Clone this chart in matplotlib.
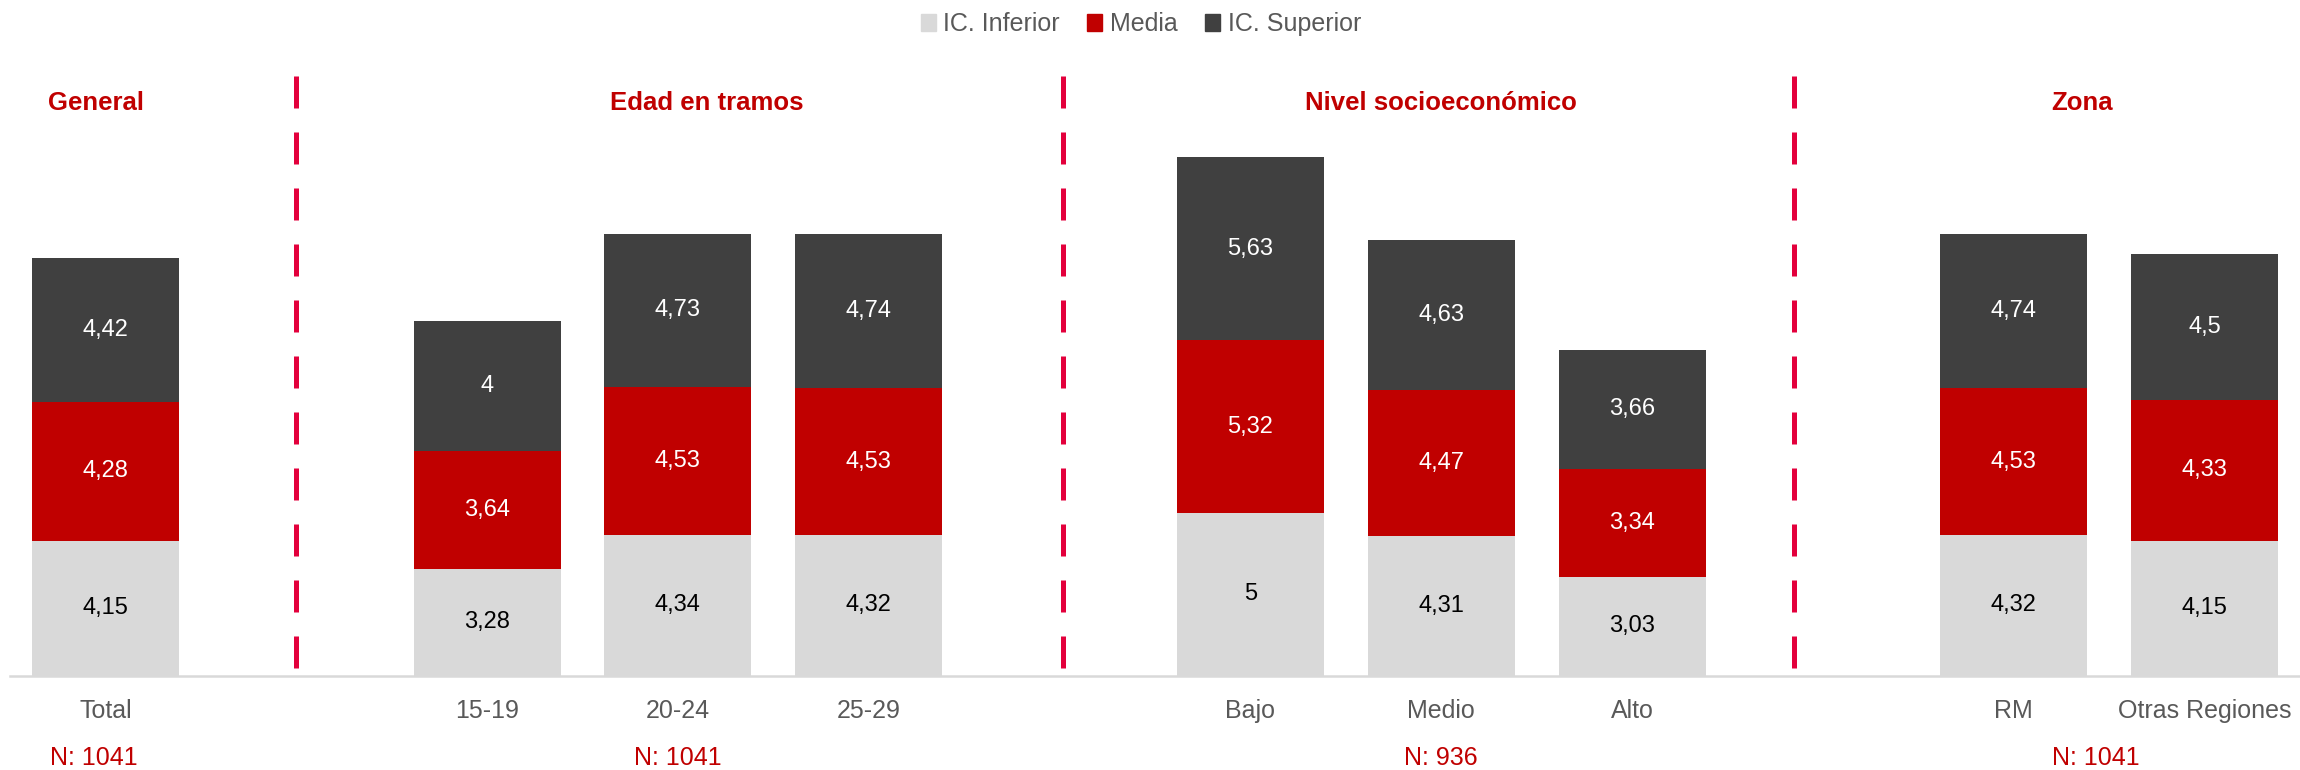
import numpy as np
import matplotlib
matplotlib.use('Agg')
import matplotlib.pyplot as plt
from matplotlib.patches import Patch
from matplotlib.transforms import blended_transform_factory

plt.rcParams['font.family'] = ['Liberation Sans', 'DejaVu Sans']

# blank entries are the empty separator slots
categories = ['Total', '', '15-19', '20-24', '25-29', '', 'Bajo', 'Medio', 'Alto', '', 'RM', 'Otras Regiones']
ic_inferior = [4.15, 3.28, 4.34, 4.32, 5, 4.31, 3.03, 4.32, 4.15]
media = [4.28, 3.64, 4.53, 4.53, 5.32, 4.47, 3.34, 4.53, 4.33]
ic_superior = [4.42, 4, 4.73, 4.74, 5.63, 4.63, 3.66, 4.74, 4.5]
series_names = ['IC. Inferior', 'Media', 'IC. Superior']
groups = ['General', 'Edad en tramos', 'Nivel socioeconómico', 'Zona']
group_n = ['N: 1041', 'N: 1041', 'N: 936', 'N: 1041']

colors = ['#d9d9d9', '#c00000', '#404040']
label_colors = ['black', 'white', 'white']
red_txt = '#c00000'
gray_txt = '#595959'
dash_red = '#e3003c'

slots = [i for i, c in enumerate(categories) if c]
labels = [c for c in categories if c]

fig = plt.figure(figsize=(23, 7.7), dpi=100)
ax = fig.add_axes([10 / 2300, (770 - 675.6) / 770, 1 - 10 / 2300, 599.6 / 770])

bottom = np.zeros(len(slots))
for vals, col, lc in zip([ic_inferior, media, ic_superior], colors, label_colors):
    vals = np.array(vals, dtype=float)
    ax.bar(slots, vals, bottom=bottom, width=0.77, color=col, edgecolor='none')
    for x, b, v in zip(slots, bottom, vals):
        ax.text(x, b + v / 2, f'{v:g}'.replace('.', ','), ha='center', va='center',
                color=lc, fontsize=17)
    bottom += vals

ax.set_xlim(-0.5, 11.5)
ax.set_ylim(0, 18.45)
ax.set_xticks(slots)
ax.set_xticklabels(labels, fontsize=18, color=gray_txt)
ax.tick_params(axis='x', length=0, pad=17)
ax.set_yticks([])
for s in ['top', 'right', 'left']:
    ax.spines[s].set_visible(False)
ax.spines['bottom'].set_color('#d9d9d9')
ax.spines['bottom'].set_linewidth(1.8)

# dashed separators
for x in [1.0, 5.02, 8.85]:
    ax.plot([x, x], [18.45, 0], color=dash_red, lw=3.6, ls=(0, (6.4, 4.8)),
            solid_capstyle='butt', clip_on=False)

# group titles and sample sizes
title_x = [-0.05, 3.15, 7.0, 10.36]
n_x = [-0.06, 3.0, 7.0, 10.43]
for g, tx in zip(groups, title_x):
    ax.text(tx, 17.62, g, ha='center', va='center', color=red_txt,
            fontsize=18.5, fontweight='bold')
trans = blended_transform_factory(ax.transData, fig.transFigure)
for n, nx in zip(group_n, n_x):
    ax.text(nx, 12 / 770, n, transform=trans, ha='center', va='center',
            color=red_txt, fontsize=18)

handles = [Patch(color=c, label=n) for c, n in zip(colors, series_names)]
fig.legend(handles=handles, loc='center', bbox_to_anchor=(0.496, 1 - 24 / 770),
           ncol=3, frameon=False, fontsize=18, handlelength=0.6, handleheight=0.7,
           handletextpad=0.3, columnspacing=1.1, labelcolor=gray_txt)

plt.savefig('out.png', dpi=100)
